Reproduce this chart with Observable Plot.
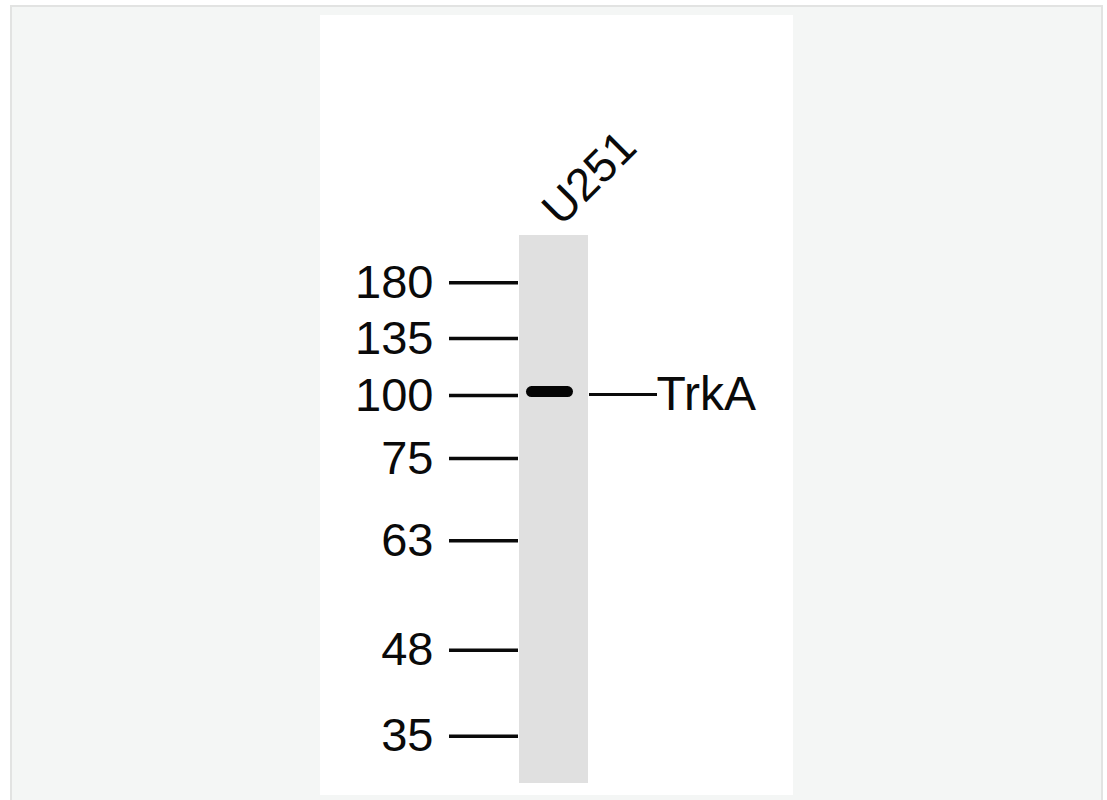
<!DOCTYPE html>
<html>
<head>
<meta charset="utf-8">
<script src="https://cdn.jsdelivr.net/npm/d3@7"></script>
<script src="https://cdn.jsdelivr.net/npm/@observablehq/plot@0.6"></script>
<style>
  html, body { margin: 0; padding: 0; background: #ffffff; }
  body { width: 1107px; height: 800px; position: relative; overflow: hidden; font-family: "Liberation Sans", Arial, sans-serif; }
  #outer { position: absolute; left: 10px; top: 5px; width: 1089px; height: 820px; background: #f4f6f5; border: 2px solid #e2e3e2; }
  #panel { position: absolute; left: 320px; top: 15px; width: 473px; height: 780px; background: #ffffff; }
  #chart { position: absolute; left: 0; top: 0; }
</style>
</head>
<body>
<div id="outer"></div>
<div id="panel"></div>
<div id="chart"></div>
<script>
// Lanes
const lanes = ["U251"];
// Molecular weight markers (kDa) and their relative migration (0 = well, 1 = end of lane)
const markerKDa = [180, 135, 100, 75, 63, 48, 35];
const markerRf = [0.086, 0.188, 0.292, 0.407, 0.557, 0.757, 0.914];
// Detected band
const bandName = ["TrkA"];
const bandLane = ["U251"];
const bandRf = [0.2847];
// Lane extent (relative migration)
const laneStart = [0];
const laneEnd = [1];

const laneData = lanes.map((l, i) => ({lane: l, y1: laneStart[i], y2: laneEnd[i]}));
const bands = bandName.map((n, i) => ({name: n, lane: bandLane[i], rf: bandRf[i]}));
const kdaByRf = new Map(markerRf.map((r, i) => [r, markerKDa[i]]));
const nameByRf = new Map(bands.map(b => [b.rf, b.name]));

const chart = Plot.plot({
  width: 1107,
  height: 800,
  marginLeft: 519,
  marginRight: 519,
  marginTop: 235,
  marginBottom: 17,
  style: {background: "transparent", fontFamily: "'Liberation Sans', Arial, sans-serif", color: "#0a0a0a"},
  x: {type: "band", domain: lanes, padding: 0, axis: null},
  y: {domain: [0, 1], reverse: true, axis: null},
  marks: [
    Plot.barY(laneData, {x: "lane", y1: "y1", y2: "y2", fill: "#e0e0e0"}),
    Plot.tickY(bands, {x: "lane", y: "rf", stroke: "#050505", strokeWidth: 11, strokeLinecap: "round", insetLeft: 12.5, insetRight: 20.5}),
    Plot.axisY(markerRf, {anchor: "left", tickSize: 69, tickPadding: 16, dx: -1, strokeWidth: 3.5, fontSize: 47, tickFormat: d => kdaByRf.get(d), label: null}),
    Plot.axisY(bandRf, {anchor: "right", tickSize: 68, tickPadding: 0, dy: 3, strokeWidth: 3, fontSize: 48, tickFormat: d => nameByRf.get(d), label: null}),
    Plot.text(lanes, {x: d => d, frameAnchor: "top", text: d => d, rotate: -45, textAnchor: "start", fontSize: 46, dx: -16, dy: -31, fill: "#0a0a0a"})
  ]
});
document.getElementById("chart").appendChild(chart);
</script>
</body>
</html>
